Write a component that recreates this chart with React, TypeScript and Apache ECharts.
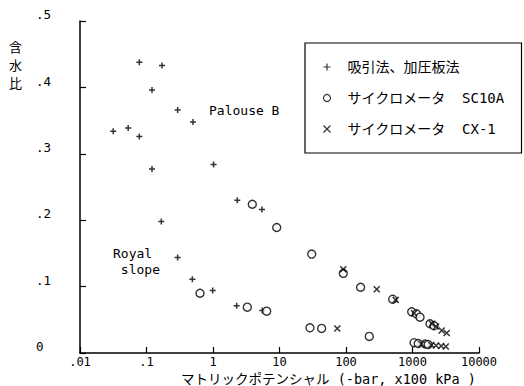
import React, { useEffect, useRef } from "react";
import * as echarts from "echarts";

// 吸引法、加圧板法 (+)
const plusX = [0.078, 0.171, 0.121, 0.294, 0.5, 0.0316, 0.053, 0.078, 0.121, 1.02, 2.32, 5.45, 0.167, 0.294, 0.489, 0.99, 2.27, 5.51];
const plusY = [0.438, 0.433, 0.396, 0.366, 0.348, 0.334, 0.339, 0.326, 0.277, 0.284, 0.23, 0.216, 0.198, 0.144, 0.111, 0.094, 0.071, 0.064];

// サイクロメータ SC10A (○)
const circX = [3.9, 9.08, 30.5, 91, 166, 504, 973, 1148, 1297, 1833, 2106, 0.638, 3.28, 6.42, 28.7, 43, 224, 1055, 1218, 1550, 1720];
const circY = [0.224, 0.189, 0.149, 0.12, 0.099, 0.081, 0.062, 0.059, 0.054, 0.044, 0.041, 0.09, 0.069, 0.063, 0.038, 0.037, 0.025, 0.0155, 0.0143, 0.0136, 0.0128];

// サイクロメータ CX-1 (×)
const crossX = [91, 290, 559, 1055, 1965, 2256, 2750, 3270, 74, 1360, 1920, 2256, 2700, 3170];
const crossY = [0.126, 0.096, 0.08, 0.06, 0.044, 0.04, 0.034, 0.03, 0.037, 0.0136, 0.012, 0.0113, 0.0105, 0.0098];

const seriesNames = ["吸引法、加圧板法", "サイクロメータ  SC10A", "サイクロメータ  CX-1"];
const yAxisTitleChars = ["含", "水", "比"];
const xAxisTitle = "マトリックポテンシャル (-bar, x100 kPa )";
const labelPalouse = "Palouse B";
const labelRoyal = "Royal\n slope";

const PLUS = "path://M5,0V10M0,5H10";
const CROSS = "path://M0,0L10,10M10,0L0,10";

const MONO = "'DejaVu Sans Mono', 'Noto Sans CJK JP', monospace";

const zip = (xs: number[], ys: number[]) => xs.map((x, i) => [x, ys[i]]);

export default function App() {
  const ref = useRef<HTMLDivElement>(null);
  useEffect(() => {
    if (!ref.current) return;
    const chart = echarts.init(ref.current, null, { renderer: "svg" });
    const strokeStyle = { color: "none", borderColor: "#000", borderWidth: 1.5 };
    chart.setOption({
      animation: false,
      backgroundColor: "#fff",
      textStyle: { fontFamily: MONO, color: "#000" },
      grid: { left: 80, right: 45, top: 21, bottom: 33 },
      xAxis: {
        type: "log",
        logBase: 10,
        min: 0.01,
        max: 10000,
        axisLine: { show: true, lineStyle: { color: "#000", width: 1.5 } },
        axisTick: { show: true, inside: true, length: 6, lineStyle: { color: "#000", width: 1.2 } },
        splitLine: { show: false },
        minorTick: { show: false },
        axisLabel: {
          color: "#000",
          fontSize: 12,
          fontFamily: MONO,
          margin: 3,
          formatter: (v: number) => (v < 1 ? String(v).replace(/^0/, "") : String(v)),
        },
      },
      yAxis: {
        type: "value",
        min: 0,
        max: 0.5,
        interval: 0.1,
        axisLine: { show: true, lineStyle: { color: "#000", width: 1.5 } },
        axisTick: { show: true, inside: true, length: 6, lineStyle: { color: "#000", width: 1.2 } },
        splitLine: { show: false },
        axisLabel: {
          color: "#000",
          fontSize: 12.5,
          fontFamily: MONO,
          align: "left",
          margin: 44,
          verticalAlign: "bottom",
          formatter: (v: number) => (v === 0 ? "0" : "." + Math.round(v * 10)),
        },
      },
      legend: {
        orient: "vertical",
        left: 305,
        top: 43,
        padding: [17, 14, 17, 16],
        itemGap: 17,
        itemWidth: 7,
        itemHeight: 7,
        borderColor: "#000",
        borderWidth: 1.2,
        borderRadius: 0,
        textStyle: { fontSize: 14, fontFamily: MONO, color: "#000", width: 160, padding: [0, 0, 0, 12], lineHeight: 14 },
        data: [
          { name: seriesNames[0], icon: PLUS, itemStyle: { ...strokeStyle, borderWidth: 1.2 } },
          { name: seriesNames[1], icon: "circle", itemStyle: { color: "#fff", borderColor: "#000", borderWidth: 1.2 } },
          { name: seriesNames[2], icon: CROSS, itemStyle: { ...strokeStyle, borderWidth: 1.2 } },
        ],
      },
      series: [
        {
          name: seriesNames[0],
          type: "scatter",
          symbol: PLUS,
          symbolSize: 6,
          itemStyle: strokeStyle,
          data: zip(plusX, plusY),
        },
        {
          name: seriesNames[1],
          type: "scatter",
          symbol: "circle",
          symbolSize: 8,
          itemStyle: { color: "#fff", borderColor: "#000", borderWidth: 1.4 },
          data: zip(circX, circY),
        },
        {
          name: seriesNames[2],
          type: "scatter",
          symbol: CROSS,
          symbolSize: 6,
          itemStyle: strokeStyle,
          data: zip(crossX, crossY),
        },
      ],
      graphic: [
        ...yAxisTitleChars.map((ch, i) => ({
          type: "text",
          left: 9,
          top: 40 + i * 18,
          style: { text: ch, fontSize: 13, fontFamily: "'Noto Sans CJK JP'", fill: "#000" },
        })),
        {
          type: "text",
          left: 181,
          top: 372,
          style: { text: xAxisTitle, fontSize: 13.5, fontFamily: MONO, fill: "#000" },
        },
        {
          type: "text",
          left: 209,
          top: 104,
          style: { text: labelPalouse, fontSize: 13, fontFamily: MONO, fill: "#000" },
        },
        {
          type: "text",
          left: 113,
          top: 245,
          style: { text: labelRoyal, fontSize: 13, lineHeight: 16, fontFamily: MONO, fill: "#000" },
        },
      ],
    });
    return () => chart.dispose();
  }, []);
  return (
    <div
      ref={ref}
      style={{ position: "fixed", left: 0, top: 0, width: 524, height: 386, background: "#fff" }}
    />
  );
}
